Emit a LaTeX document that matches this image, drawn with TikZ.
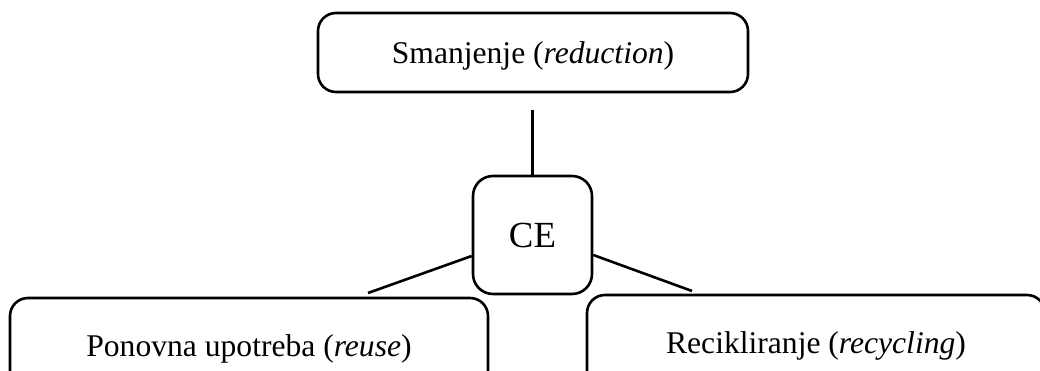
\documentclass[tikz,border=0pt]{standalone}
\usepackage{fontspec}
\setmainfont{Liberation Serif}
\begin{document}
\begin{tikzpicture}[x=1pt,y=-1pt,
  box/.style={draw,line width=2.6pt,rounded corners=18pt,inner sep=0pt,
    text depth=0pt,font=\fontsize{31.6}{38}\selectfont},
  link/.style={line width=2.6pt}]
\useasboundingbox (0,0) rectangle (1040,371);
\clip (0,0) rectangle (1040,371);
% boxes
\node[box,minimum width=430pt,minimum height=79pt] (red) at (533,52.5) {Smanjenje (\textit{reduction})};
\node[box,minimum width=119pt,minimum height=118pt,rounded corners=20pt,
      font=\fontsize{36.8}{44}\selectfont] (ce) at (532.5,235) {CE};
\node[box,minimum width=478pt,minimum height=96pt] (reuse) at (249,346) {Ponovna upotreba (\textit{reuse})};
\node[box,minimum width=458pt,minimum height=96pt] (rec) at (816,343) {Recikliranje (\textit{recycling})};
% free ends of the connectors
\coordinate (topend) at (532.5,110);
\coordinate (leftend) at (368,293);
\coordinate (rightend) at (692,291);
% connectors
\draw[link] (topend) -- (ce.north);
\draw[link] ([yshift=-21pt]ce.west) -- (leftend);
\draw[link] ([yshift=-20pt]ce.east) -- (rightend);
\end{tikzpicture}
\end{document}
